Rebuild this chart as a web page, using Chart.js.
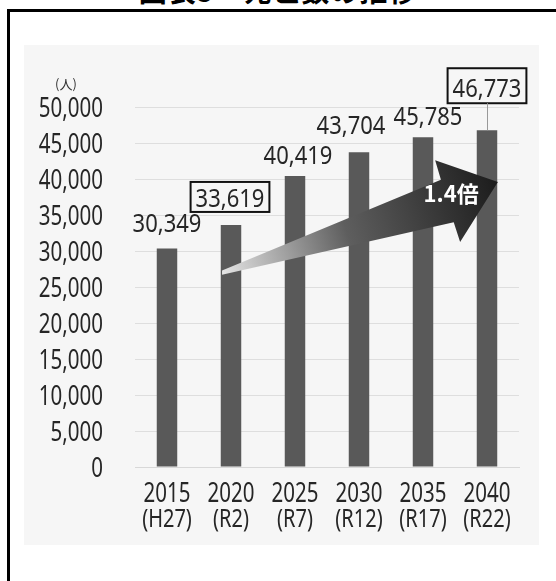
<!DOCTYPE html>
<html lang="ja">
<head>
<meta charset="utf-8">
<title>図表5 死亡数の推移</title>
<script src="https://cdn.jsdelivr.net/npm/chart.js@4.4.1/dist/chart.umd.min.js"></script>
<style>
  html, body { margin: 0; padding: 0; background: #fff; }
  body { width: 556px; height: 581px; position: relative; overflow: hidden; }
  #title {
    position: absolute; left: 0; width: 556px; top: -24px;
    text-align: center; font: bold 28px "Noto Sans CJK JP", sans-serif; line-height: 28px;
    color: #000; letter-spacing: 1px;
  }
  #frame {
    position: absolute; left: 7px; top: 9px; width: 600px; height: 620px;
    border-left: 3px solid #000; border-top: 3px solid #000;
  }
  #shade { position: absolute; left: 24px; top: 45px; width: 515px; height: 500px; background: #f6f6f6; }
  #wrap { position: absolute; left: 0; top: 0; width: 556px; height: 581px; }
</style>
</head>
<body>
<div id="title">図表5　死亡数の推移</div>
<div id="frame"></div>
<div id="shade"></div>
<div id="wrap"><canvas id="deathChart"></canvas></div>
<script>
// 年次と死亡数（人）
const years = ['2015', '2020', '2025', '2030', '2035', '2040'];
const eras = ['(H27)', '(R2)', '(R7)', '(R12)', '(R17)', '(R22)'];
const deaths = [30349, 33619, 40419, 43704, 45785, 46773];
const yMax = 50000;
const yStep = 5000;
const ratioText = '1.4倍';

// ラベルの見た目
const boxed = [false, true, false, false, false, true];
const labelGap = [16, 18, 12, 18, 12, 33];
const labelDx = [0, -1, 3, -8, 5, 0];
const boxRise = [0, 25, 0, 0, 0, 29];
const boxDrop = [0, 5, 0, 0, 0, 6];

const numFont = '"Noto Sans", sans-serif';
const fmt = v => v.toLocaleString('en-US');

// 横に詰めた文字（元図の細い書体の代わり）
function narrowText(ctx, text, x, y, align, sx) {
    ctx.save();
    ctx.translate(x, y);
    ctx.scale(sx, 1);
    ctx.textAlign = align;
    ctx.fillText(text, 0, 0);
    ctx.restore();
}

// 矢印（カテゴリ番号, 値）
const arrowPts = [
    [0.86, 27300], [4.28, 39900], [4.19, 42600], [5.17, 39600],
    [4.58, 31250], [4.48, 34000], [0.86, 26700]
];
const arrowText = [4.44, 37900];

const labelPlugin = {
    id: 'labels',
    afterDatasetsDraw(chart) {
        const ctx = chart.ctx;
        const xs = chart.scales.x, ys = chart.scales.y;
        const px = p => [xs.getPixelForValue(p[0]), ys.getPixelForValue(p[1])];

        ctx.save();
        ctx.fillStyle = '#262626';
        ctx.textBaseline = 'alphabetic';

        // 目盛ラベル
        ctx.font = '27px ' + numFont;
        ys.ticks.forEach((t, i) => {
            narrowText(ctx, fmt(t.value), 103, ys.getPixelForTick(i) + 9.5, 'right', 0.76);
        });
        xs.ticks.forEach((t, i) => {
            const x = xs.getPixelForTick(i);
            narrowText(ctx, years[t.value], x, xs.top + 35, 'center', 0.76);
        });
        ctx.font = '25px ' + numFont;
        xs.ticks.forEach((t, i) => {
            const x = xs.getPixelForTick(i);
            narrowText(ctx, eras[t.value], x, xs.top + 60, 'center', 0.8);
        });

        // 矢印
        const pts = arrowPts.map(px);
        const g = ctx.createLinearGradient(pts[0][0], pts[0][1], pts[3][0], pts[3][1]);
        g.addColorStop(0, '#e4e4e4');
        g.addColorStop(0.45, '#5e5e5e');
        g.addColorStop(1, '#1c1c1c');
        ctx.beginPath();
        pts.forEach((p, i) => i ? ctx.lineTo(p[0], p[1]) : ctx.moveTo(p[0], p[1]));
        ctx.closePath();
        ctx.fillStyle = g;
        ctx.fill();
        const tp = px(arrowText);
        ctx.fillStyle = '#fff';
        ctx.font = 'bold 22px "Noto Sans CJK JP", sans-serif';
        ctx.textAlign = 'center';
        ctx.textBaseline = 'middle';
        ctx.fillText(ratioText, tp[0], tp[1]);

        // 数値ラベル
        const meta = chart.getDatasetMeta(0);
        ctx.font = '25px ' + numFont;
        ctx.textBaseline = 'alphabetic';
        meta.data.forEach((bar, i) => {
            const text = fmt(deaths[i]);
            const x = bar.x + labelDx[i];
            const y = bar.y - labelGap[i];
            ctx.fillStyle = '#262626';
            narrowText(ctx, text, x, y, 'center', 0.88);
            if (boxed[i]) {
                const w = ctx.measureText(text).width * 0.88 + 10;
                const top = y - boxRise[i], h = boxRise[i] + boxDrop[i];
                ctx.strokeStyle = '#111';
                ctx.lineWidth = 2;
                ctx.strokeRect(x - w / 2, top, w, h);
                if (bar.y - (top + h) > 18) {
                    ctx.strokeStyle = '#999';
                    ctx.lineWidth = 1;
                    ctx.beginPath();
                    ctx.moveTo(bar.x + 0.5, top + h);
                    ctx.lineTo(bar.x + 0.5, bar.y);
                    ctx.stroke();
                }
            }
        });

        // 単位
        ctx.fillStyle = '#333';
        ctx.font = '13px "Noto Sans CJK JP", sans-serif';
        ctx.textAlign = 'center';
        ctx.textBaseline = 'middle';
        ctx.fillText('(人)', 66, ys.top - 23);
        ctx.restore();
    }
};

new Chart(document.getElementById('deathChart').getContext('2d'), {
    type: 'bar',
    data: {
        labels: years.map((y, i) => [y, eras[i]]),
        datasets: [{
            label: '死亡数',
            data: deaths,
            backgroundColor: '#595959',
            borderWidth: 0,
            categoryPercentage: 1,
            barPercentage: 0.32
        }]
    },
    options: {
        responsive: true,
        maintainAspectRatio: false,
        animation: false,
        layout: { padding: { left: 0, right: 37, top: 107, bottom: 40 } },
        plugins: {
            legend: { display: false },
            tooltip: { enabled: false }
        },
        scales: {
            x: {
                grid: { display: false },
                border: { color: '#d8d8d8' },
                ticks: { display: false, autoSkip: false },
                afterFit(scale) { scale.height = 74; }
            },
            y: {
                min: 0,
                max: yMax,
                grid: { color: '#dedede', drawTicks: false },
                border: { display: false },
                ticks: { display: false, stepSize: yStep },
                afterFit(scale) { scale.width = 135; }
            }
        }
    },
    plugins: [labelPlugin]
});
</script>
</body>
</html>
